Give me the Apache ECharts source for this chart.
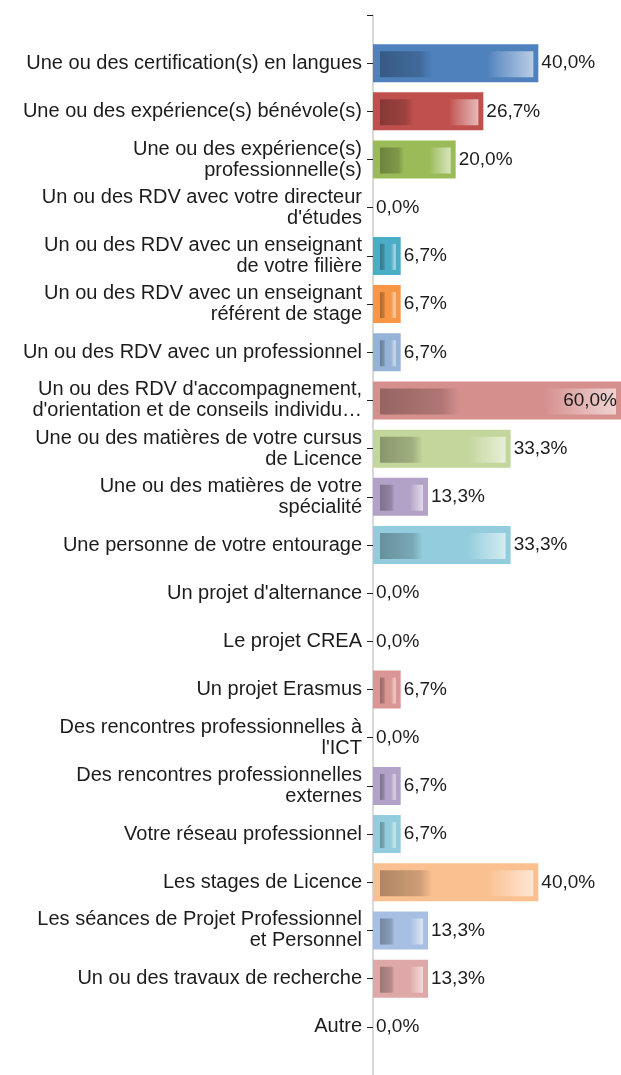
<!DOCTYPE html>
<html>
<head>
<meta charset="utf-8">
<title>Chart</title>
<script src="https://cdn.jsdelivr.net/npm/echarts@6/dist/echarts.min.js"></script>
<style>
  html, body { margin: 0; padding: 0; background: #fff; }
  #chart { width: 621px; height: 1075px; }
</style>
</head>
<body>
<div id="chart"></div>
<script>
// categories, top to bottom
var categories = [
  'Une ou des certification(s) en langues',
  'Une ou des expérience(s) bénévole(s)',
  'Une ou des expérience(s)\nprofessionnelle(s)',
  "Un ou des RDV avec votre directeur\nd'études",
  'Un ou des RDV avec un enseignant\nde votre filière',
  'Un ou des RDV avec un enseignant\nréférent de stage',
  'Un ou des RDV avec un professionnel',
  "Un ou des RDV d'accompagnement,\nd'orientation et de conseils individu…",
  'Une ou des matières de votre cursus\nde Licence',
  'Une ou des matières de votre\nspécialité',
  'Une personne de votre entourage',
  "Un projet d'alternance",
  'Le projet CREA',
  'Un projet Erasmus',
  'Des rencontres professionnelles à\nl\'ICT',
  'Des rencontres professionnelles\nexternes',
  'Votre réseau professionnel',
  'Les stages de Licence',
  'Les séances de Projet Professionnel\net Personnel',
  'Un ou des travaux de recherche',
  'Autre'
]
var percents = [40.0, 26.7, 20.0, 0.0, 6.7, 6.7, 6.7, 60.0, 33.3, 13.3, 33.3, 0.0, 0.0, 6.7, 0.0, 6.7, 6.7, 40.0, 13.3, 13.3, 0.0]

// bar colours (style, one per category)
var barColors = [
  '#4F81BD', '#C0504D', '#9BBB59', '#8064A2', '#4BACC6', '#F79646', '#95B3D7',
  '#D5908E', '#C3D69B', '#B3A2C7', '#93CDDD', '#FAC090', '#A7BFE2', '#D99694',
  '#B3A2C7', '#B3A2C7', '#93CDDD', '#FAC090', '#A7BFE2', '#DDA8A7', '#8064A2'
]

function mix(hex, target, t) {
  var r = parseInt(hex.substr(1, 2), 16)
  var g = parseInt(hex.substr(3, 2), 16)
  var b = parseInt(hex.substr(5, 2), 16)
  r = Math.round(r + (target - r) * t)
  g = Math.round(g + (target - g) * t)
  b = Math.round(b + (target - b) * t)
  return 'rgb(' + r + ',' + g + ',' + b + ')'
}

var chart = echarts.init(document.getElementById('chart'), null, {renderer: 'canvas'})

// empty slot above and below so the axis line reaches the top tick and the bottom edge
var axisData = [''].concat(categories, [''])

chart.setOption({
  animation: false,
  grid: {
    left: 373,
    right: 0,
    top: 15,
    bottom: -7,
    containLabel: false
  },
  xAxis: {
    type: 'value',
    min: 0,
    max: 60,
    show: false
  },
  yAxis: {
    type: 'category',
    inverse: true,
    boundaryGap: false,
    data: axisData,
    axisLine: {
      show: true,
      lineStyle: { color: '#D9D9D9', width: 2 }
    },
    axisTick: {
      show: true,
      length: 6,
      lineStyle: { color: '#222', width: 1 }
    },
    axisLabel: {
      margin: 11,
      color: '#1c1c1c',
      fontFamily: 'Liberation Sans, Arial, sans-serif',
      fontSize: 20,
      lineHeight: 21,
      align: 'right'
    },
    splitLine: { show: false }
  },
  series: [
    {
      type: 'custom',
      clip: false,
      data: percents.map(function (v, i) { return [v, categories[i]] }),
      renderItem: function (params, api) {
        var idx = params.dataIndex
        var v = api.value(0)
        var start = api.coord([0, api.value(1)])
        var end = api.coord([v, api.value(1)])
        var h = 38
        var y0 = start[1] - h / 2
        var w = end[0] - start[0]
        var base = barColors[idx]
        var children = []
        if (w > 0) {
          children.push({
            type: 'rect',
            shape: { x: start[0], y: y0, width: w, height: h },
            style: { fill: base }
          })
          var iw = w - 12
          if (iw > 0) {
            children.push({
              type: 'rect',
              shape: { x: start[0] + 7, y: y0 + 7, width: iw, height: h - 12 },
              style: {
                fill: new echarts.graphic.LinearGradient(0, 0, 1, 0, [
                  { offset: 0, color: mix(base, 0, 0.3) },
                  { offset: 0.26, color: mix(base, 0, 0.18) },
                  { offset: 0.34, color: base },
                  { offset: 0.7, color: base },
                  { offset: 0.78, color: mix(base, 255, 0.18) },
                  { offset: 1, color: mix(base, 255, 0.6) }
                ])
              }
            })
          }
        }
        var text = v.toFixed(1).replace('.', ',') + '%'
        var inside = end[0] + 60 > params.coordSys.x + params.coordSys.width
        children.push({
          type: 'text',
          style: {
            x: inside ? end[0] - 4 : end[0] + 3,
            y: start[1],
            text: text,
            fill: '#1c1c1c',
            fontFamily: 'Liberation Sans, Arial, sans-serif',
            fontSize: 19,
            align: inside ? 'right' : 'left',
            verticalAlign: 'middle'
          }
        })
        return { type: 'group', children: children }
      }
    }
  ]
})
</script>
</body>
</html>
